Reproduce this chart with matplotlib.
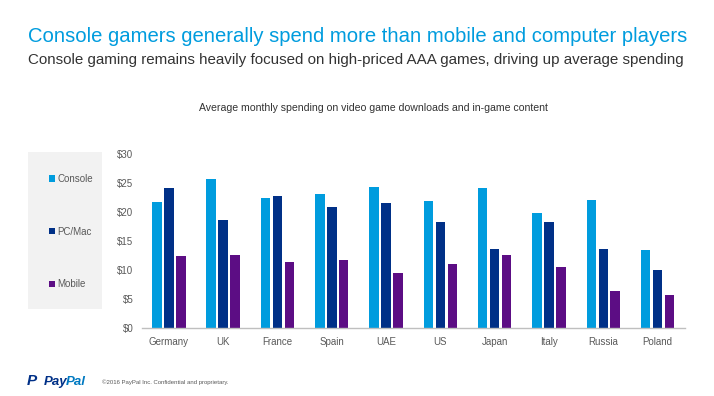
import matplotlib.pyplot as plt
import numpy as np
from matplotlib.patches import Rectangle, Patch

plt.rcParams['font.family'] = ['Liberation Sans', 'DejaVu Sans']

# Data
countries = ['Germany', 'UK', 'France', 'Spain', 'UAE', 'US', 'Japan', 'Italy', 'Russia', 'Poland']
console = [21.8, 25.7, 22.5, 23.1, 24.3, 21.9, 24.2, 19.8, 22.1, 13.5]
pc_mac = [24.1, 18.7, 22.7, 20.9, 21.5, 18.3, 13.7, 18.3, 13.7, 10.1]
mobile = [12.5, 12.6, 11.4, 11.8, 9.6, 11.0, 12.6, 10.6, 6.5, 5.8]
series_names = ['Console', 'PC/Mac', 'Mobile']
y_ticks = [0, 5, 10, 15, 20, 25, 30]

colors = ['#009cde', '#003087', '#5c0d84']

fig = plt.figure(figsize=(7.14, 3.96), dpi=100)
ax = fig.add_axes([0.1985, 0.171, 0.7605, 0.44])

x = np.arange(len(countries))
width = 0.175
step = 0.22
for i, (vals, c) in enumerate(zip([console, pc_mac, mobile], colors)):
    ax.bar(x + (i - 1) * step, vals, width, color=c, label=series_names[i])

ax.set_xlim(-0.5, len(countries) - 0.5)
ax.set_ylim(0, 30)
ax.set_yticks(y_ticks)
ax.set_yticklabels(['$%d' % v for v in y_ticks])
ax.set_xticks(x)
ax.set_xticklabels(countries)
ax.tick_params(axis='both', length=0, labelsize=7, colors='#595959', pad=6)
for s in ['top', 'right', 'left']:
    ax.spines[s].set_visible(False)
ax.spines['bottom'].set_color('#bfbfbf')
ax.spines['bottom'].set_linewidth(1)

# Legend on a grey panel
fig.patches.append(Rectangle((27.5 / 714, 1 - 309 / 396), 74 / 714, 157 / 396,
                             transform=fig.transFigure, facecolor='#f2f2f2',
                             edgecolor='none', zorder=0))
handles = [Patch(facecolor=c) for c in colors]
fig.legend(handles, series_names, loc='upper left', bbox_to_anchor=(44 / 714, 1 - 169 / 396),
           frameon=False, fontsize=7, labelspacing=4.4, handlelength=0.6, handleheight=0.6,
           handletextpad=0.3, borderpad=0, labelcolor='#595959')

# Titles
fig.text(28 / 714, 1 - 37 / 396, 'Console gamers generally spend more than mobile and computer players',
         fontsize=14.6, color='#009cde', va='center', ha='left')
fig.text(28 / 714, 1 - 60 / 396, 'Console gaming remains heavily focused on high-priced AAA games, driving up average spending',
         fontsize=10.9, color='#333333', va='center', ha='left')
fig.text(373 / 714, 1 - 108 / 396, 'Average monthly spending on video game downloads and in-game content',
         fontsize=7.6, color='#333333', va='center', ha='center')

# Footer
fig.text(27 / 714, 1 - 381 / 396, 'P', fontsize=11, fontweight='bold', style='italic',
         color='#003087', va='center', ha='left')
fig.text(44 / 714, 1 - 382 / 396, 'Pay', fontsize=9.5, fontweight='bold', style='italic',
         color='#003087', va='center', ha='left')
fig.text(66 / 714, 1 - 382 / 396, 'Pal', fontsize=9.5, fontweight='bold', style='italic',
         color='#0079c1', va='center', ha='left')
fig.text(102 / 714, 1 - 382 / 396, '\u00a92016 PayPal Inc. Confidential and proprietary.',
         fontsize=4.3, color='#595959', va='center', ha='left')

fig.savefig('out.png', dpi=100)
